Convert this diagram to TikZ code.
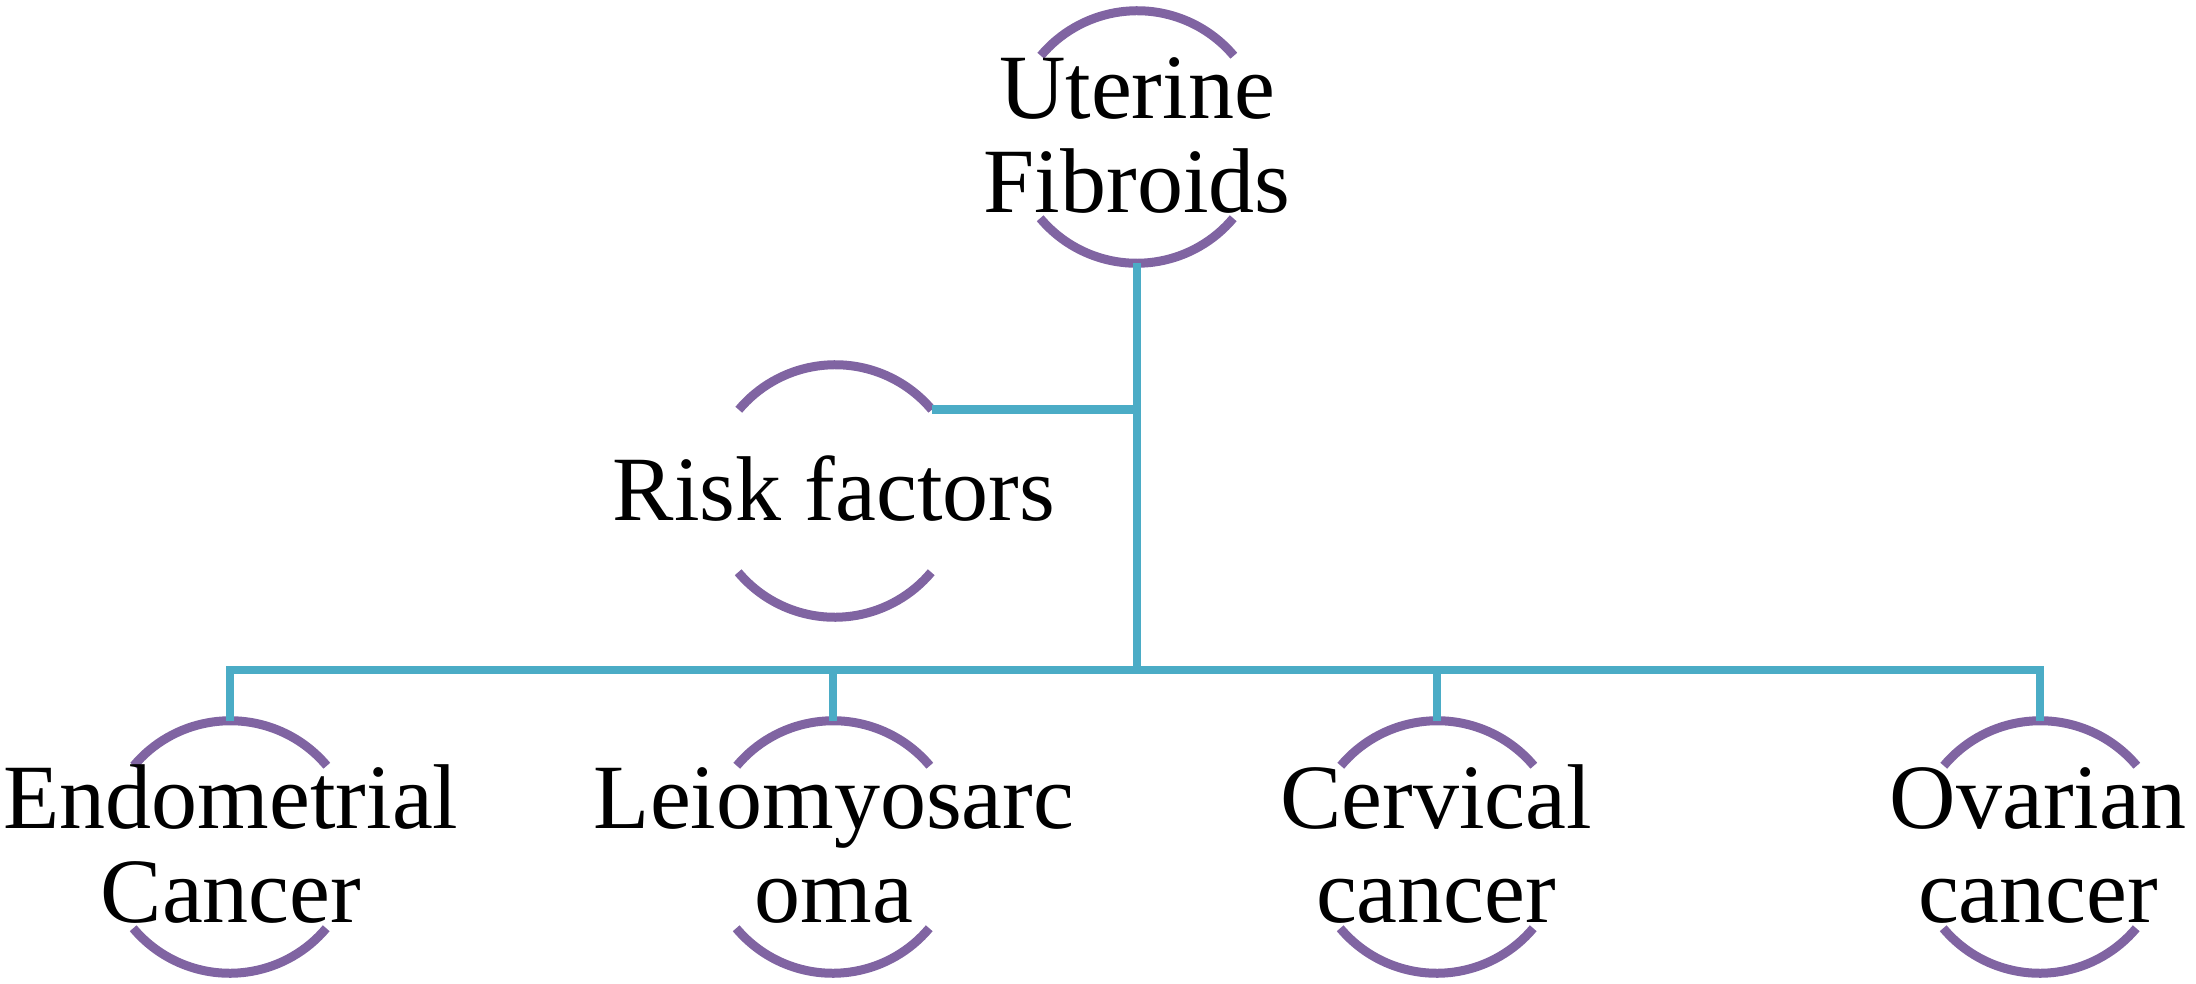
\documentclass[tikz,border=0pt]{standalone}
\usepackage{fontspec}
\setmainfont{Liberation Serif}
\definecolor{arcpurple}{RGB}{128,100,162}
\definecolor{linkblue}{RGB}{75,172,198}
\begin{document}
\begin{tikzpicture}[x=0.5pt,y=-0.5pt,
  ring/.style={circle,draw=none,minimum size=126pt,inner sep=0pt},
  lbl/.style={font=\fontsize{46}{47}\selectfont,align=center,inner sep=0pt,anchor=base},
  arcst/.style={draw=arcpurple,line width=4.5pt},
  link/.style={draw=linkblue,line width=4.3pt}]
\useasboundingbox (0,0) rectangle (2196,984);
% rings
\node[ring] (u) at (1137,137) {};
\node[ring] (r) at (835,491) {};
\node[ring] (e) at (230,847) {};
\node[ring] (l) at (833,847) {};
\node[ring] (c) at (1437,847) {};
\node[ring] (o) at (2040,847) {};
\foreach \n in {u,r,e,l,c,o}{
  \draw[arcst] (\n.40) arc[start angle=40,end angle=140,radius=63pt];
  \draw[arcst] (\n.220) arc[start angle=220,end angle=320,radius=63pt];
}
% labels (base anchor = baseline of last line)
\node[lbl] (ut) at (1137,213) {Uterine\\Fibroids};
\node[lbl] (rt) at (834,520) {Risk factors};
\node[lbl] (et) at (231,922) {Endometrial\\Cancer};
\node[lbl] (lt) at (834,922) {Leiomyosarc\\oma};
\node[lbl] (ct) at (1436,922) {Cervical\\cancer};
\node[lbl] (ot) at (2038,922) {Ovarian\\cancer};
% connectors
\coordinate (bus) at (1137,670);
\draw[link] (u.south) -- (bus);
\draw[link] (r.40) -- (r.40 -| u.south);
\draw[link] (e.north) |- (bus) -| (o.north);
\draw[link] (l.north) -- (l.north |- bus);
\draw[link] (c.north) -- (c.north |- bus);
\end{tikzpicture}
\end{document}
